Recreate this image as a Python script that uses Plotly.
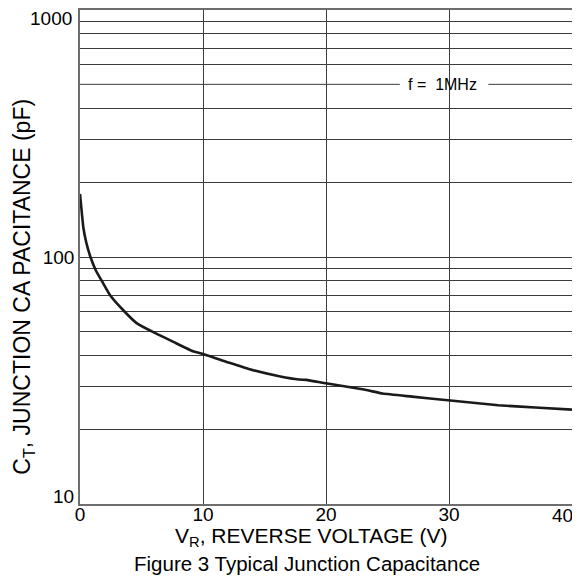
import plotly.graph_objects as go

# Data
vr = [0.0, 0.1, 0.27, 0.5, 0.85, 1.3, 1.9, 2.45, 3.5, 4.6, 6.0, 7.6, 9.2, 9.8,
      12.0, 13.8, 16.2, 17.8, 18.4, 20.0, 23.2, 24.6, 27.0, 29.9, 34.0, 37.0, 40.0]
ct = [180, 160, 132, 115, 100, 88, 78, 70, 61, 54, 49.5, 45.3, 41.5, 40.8,
      37.5, 35.1, 32.9, 31.9, 31.8, 30.8, 29.0, 28.0, 27.2, 26.3, 25.1, 24.6, 24.1]

x_ticks = [0, 10, 20, 30]
x_last = 40
y_major = [10, 100, 1000]
y_grid = [20, 30, 40, 50, 60, 70, 80, 90, 200, 300, 400, 600, 700, 800, 900]
note_level = 500
note_text = "f =  1MHz"

font_family = "Liberation Sans, Arial, sans-serif"
grid_col = "#3c3c3c"
frame_col = "#6e6e6e"

fig = go.Figure()
fig.add_trace(go.Scatter(x=vr, y=ct, mode="lines",
                         line=dict(color="#1a1a1a", width=2.6, shape="spline", smoothing=0.4),
                         showlegend=False, hoverinfo="skip"))

yvals = sorted(y_major + y_grid)
# end labels (10, 1000) are placed separately, nudged inside like in the reference
ytext = [str(v) if v == 100 else "" for v in yvals]

# the page body has an 8px margin, so the figure is shifted by (8, 8)
fig.update_layout(
    width=572, height=569,
    margin=dict(l=72, r=8, t=2, b=73, autoexpand=False),
    paper_bgcolor="white", plot_bgcolor="white",
    font=dict(family=font_family, color="black", size=19),
    xaxis=dict(range=[0, 40], tickvals=x_ticks + [x_last], ticktext=[str(v) for v in x_ticks] + [""],
               showgrid=True, gridcolor=grid_col,
               gridwidth=1, showline=True, linecolor=frame_col, linewidth=1.5, mirror=True,
               ticks="", ticklen=0, tickfont=dict(size=19), zeroline=False, automargin=False,
               ticklabeloverflow="allow", ticklabelstandoff=-8),
    yaxis=dict(type="log", range=[1, 3], tickvals=yvals, ticktext=ytext,
               showgrid=True, gridcolor=grid_col, gridwidth=1, showline=True,
               linecolor=frame_col, linewidth=1.5, mirror=True, ticks="", ticklen=0,
               tickfont=dict(size=19), zeroline=False, automargin=False,
               ticklabeloverflow="allow"),
)

# grid line at 500 interrupted by the note
fig.add_shape(type="line", x0=0, x1=26.0, y0=note_level, y1=note_level, xref="x", yref="y",
              line=dict(color=grid_col, width=1), layer="below")
fig.add_shape(type="line", x0=33.2, x1=40, y0=note_level, y1=note_level, xref="x", yref="y",
              line=dict(color=grid_col, width=1), layer="below")

fig.add_annotation(x=29.5, y=2.699, xref="x", yref="y", text=note_text, showarrow=False,
                   font=dict(size=16), xanchor="center", yanchor="middle")

# end tick labels
fig.add_annotation(x=x_last, y=0, xref="x", yref="paper", text=str(x_last), showarrow=False,
                   font=dict(size=19), xanchor="right", yanchor="top", xshift=3, yshift=1)
fig.add_annotation(x=0, y=3, xref="paper", yref="y", text=str(y_major[-1]), showarrow=False,
                   font=dict(size=19), xanchor="right", yanchor="top", xshift=-6, yshift=4)
fig.add_annotation(x=0, y=1, xref="paper", yref="y", text=str(y_major[0]), showarrow=False,
                   font=dict(size=19), xanchor="right", yanchor="bottom", xshift=-4, yshift=-5)

# axis titles
fig.add_annotation(x=0.4695, y=-0.066, xref="paper", yref="paper",
                   text="V<sub>R</sub>, REVERSE VOLTAGE (V)", showarrow=False,
                   font=dict(size=21), xanchor="center", yanchor="middle")
fig.add_annotation(x=0, y=0.44, xref="paper", yref="paper", xshift=-56,
                   text="C<sub>T</sub>, JUNCTION CA PACITANCE (pF)", showarrow=False,
                   textangle=-90, font=dict(size=23), xanchor="center", yanchor="middle")

fig.add_annotation(x=0.462, y=-0.121, xref="paper", yref="paper",
                   text="Figure 3 Typical Junction Capacitance", showarrow=False,
                   font=dict(size=20.5), xanchor="center", yanchor="middle")

fig.write_html("out.html")
